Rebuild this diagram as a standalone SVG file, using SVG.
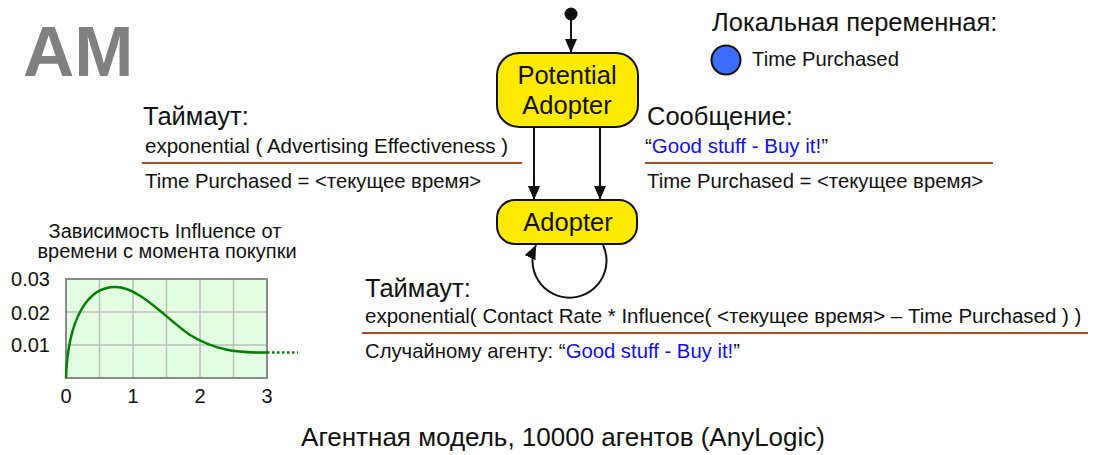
<svg xmlns="http://www.w3.org/2000/svg" width="1094" height="455" viewBox="0 0 1094 455">
<defs>
<style>
text{font-family:"Liberation Sans",Arial,sans-serif;fill:#111}
.state{fill:#FFEA00;stroke:#111;stroke-width:2}
.st{font-size:25.5px;text-anchor:middle}
.h{font-size:25.5px}
.m{font-size:20.5px}
.s{font-size:20.3px}
.blue{fill:#1010F0}
.sep{stroke:#A84A22;stroke-width:2}
.conn{stroke:#111;stroke-width:2;fill:none;marker-end:url(#ah)}
.grid{stroke:#bdbdbd;stroke-width:1.5}
.ax{font-size:20px;text-anchor:middle}
.yl{font-size:20px;text-anchor:end}
</style>
<marker id="ah" markerUnits="userSpaceOnUse" markerWidth="14" markerHeight="12" refX="14" refY="6" orient="auto">
<path d="M0,0 L14,6 L0,12 z" fill="#111"/>
</marker>
</defs>
<rect width="1094" height="455" fill="#fff"/>

<text x="23" y="76" style="font-size:71px;font-weight:bold;fill:#808080">AM</text>

<g id="initial"><circle cx="571" cy="14" r="6.5" fill="#111"/></g>

<g id="potential-adopter">
<rect class="state" x="497" y="53" width="141" height="74" rx="22"/>
<text class="st" x="567" y="84">Potential</text>
<text class="st" x="567" y="114">Adopter</text>
</g>

<g id="adopter">
<rect class="state" x="497" y="200" width="140" height="44" rx="18"/>
<text class="st" x="568" y="231">Adopter</text>
</g>

<g id="connectors">
<line class="conn" x1="571" y1="20" x2="571" y2="53"/>
<line class="conn" x1="534" y1="127" x2="534" y2="200"/>
<line class="conn" x1="600" y1="127" x2="600" y2="200"/>
<path class="conn" d="M603,245 A37,37 0 1 1 536,245"/>
</g>

<g id="timeout-left">
<text class="h" x="143" y="125">Таймаут:</text>
<text class="m" x="145" y="153">exponential ( Advertising Effectiveness )</text>
<line class="sep" x1="142" y1="163" x2="522" y2="163"/>
<text class="s" x="145" y="188">Time Purchased = &lt;текущее время&gt;</text>
</g>

<g id="message-right">
<text class="h" x="647" y="125">Сообщение:</text>
<text class="m" x="645" y="153">“<tspan class="blue">Good stuff - Buy it!</tspan>”</text>
<line class="sep" x1="645" y1="163" x2="993" y2="163"/>
<text class="s" x="647" y="188">Time Purchased = &lt;текущее время&gt;</text>
</g>

<g id="local-variable">
<text class="h" x="712" y="31">Локальная переменная:</text>
<circle cx="726" cy="60" r="14.5" fill="#3D6EFF" stroke="#111" stroke-width="2"/>
<text class="s" x="752" y="66">Time Purchased</text>
</g>

<g id="timeout-bottom">
<text class="h" x="365" y="297">Таймаут:</text>
<text class="m" x="365" y="323">exponential( Contact Rate * Influence( &lt;текущее время&gt; – Time Purchased ) )</text>
<line class="sep" x1="362" y1="333" x2="1088" y2="333"/>
<text class="s" x="365" y="358">Случайному агенту: “<tspan class="blue">Good stuff - Buy it!</tspan>”</text>
</g>

<g id="chart">
<text class="ax" x="165" y="238">Зависимость Influence от</text>
<text class="ax" x="167" y="258">времени с момента покупки</text>
<rect x="66" y="279" width="201" height="99" fill="#E2FFE2"/>
<g class="grid">
<line x1="99.5" y1="279" x2="99.5" y2="378"/>
<line x1="133" y1="279" x2="133" y2="378"/>
<line x1="166.5" y1="279" x2="166.5" y2="378"/>
<line x1="200" y1="279" x2="200" y2="378"/>
<line x1="233.5" y1="279" x2="233.5" y2="378"/>
<line x1="66" y1="312" x2="267" y2="312"/>
<line x1="66" y1="345" x2="267" y2="345"/>
</g>
<rect x="66" y="279" width="201" height="99" fill="none" stroke="#8a8a8a" stroke-width="2"/>
<path d="M66,378 C68,318 88,287 115,287 C140,287 165,318 190,335 C215,350 235,353 267,352.5" fill="none" stroke="#008000" stroke-width="2.5"/>
<line x1="267" y1="352.5" x2="298" y2="352.5" stroke="#008000" stroke-width="2.5" stroke-dasharray="2.5,2.5"/>
<text class="yl" x="50" y="286">0.03</text>
<text class="yl" x="50" y="320">0.02</text>
<text class="yl" x="50" y="352">0.01</text>
<text class="ax" x="66" y="403">0</text>
<text class="ax" x="133" y="403">1</text>
<text class="ax" x="200" y="403">2</text>
<text class="ax" x="267" y="403">3</text>
</g>

<text x="563" y="446" text-anchor="middle" style="font-size:26px">Агентная модель, 10000 агентов (AnyLogic)</text>
</svg>
